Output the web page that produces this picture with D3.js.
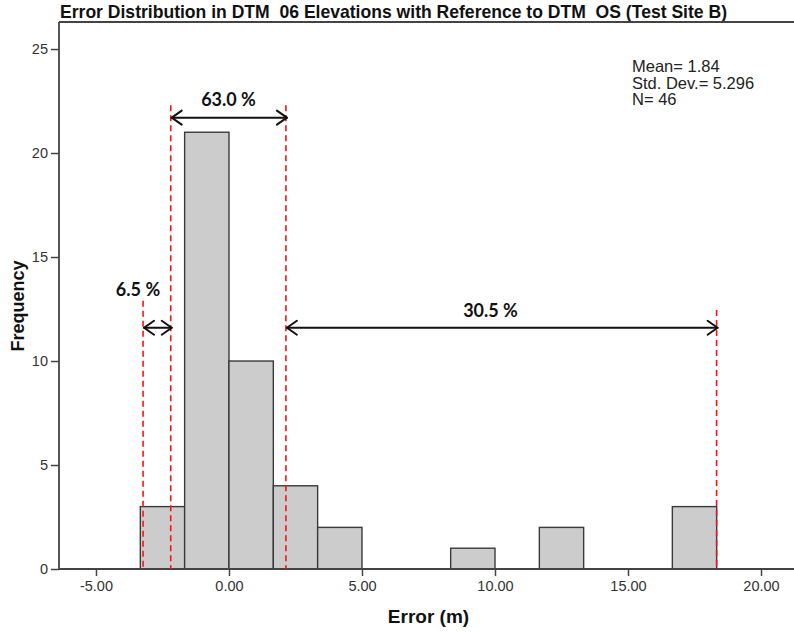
<!DOCTYPE html>
<html>
<head>
<meta charset="utf-8">
<script src="https://cdn.jsdelivr.net/npm/d3@7/dist/d3.min.js"></script>
<style>
  html, body { margin: 0; padding: 0; background: #fff; }
  svg { display: block; }
  .keep-space { white-space: pre; }
</style>
</head>
<body>
<svg id="chart" width="794" height="632"></svg>
<script>
// Histogram of elevation errors: bin edges (m) and counts per bin
const binEdges = [-3.333, -1.667, 0, 1.667, 3.333, 5, 6.667, 8.333, 10, 11.667, 13.333, 15, 16.667, 18.333];
const binCounts = [3, 21, 10, 4, 2, 0, 0, 1, 0, 2, 0, 0, 3];

// Axis ticks
const xTicks = [-5, 0, 5, 10, 15, 20];
const yTicks = [0, 5, 10, 15, 20, 25];

// Summary statistics shown in the corner
const statLines = ["Mean= 1.84", "Std. Dev.= 5.296", "N= 46"];

// Error thresholds (m) marked with dashed lines, and the share between neighbours
const markerValues = [-3.23, -2.19, 2.14, 18.33];
const markerTops = [12.9, 22.3, 22.3, 12.45];
const bandFrom = [-3.23, -2.19, 2.14];
const bandTo = [-2.19, 2.14, 18.33];
const bandLabels = ["6.5 %", "63.0 %", "30.5 %"];
const bandLevels = [11.6, 21.7, 11.6];

const titleText = "Error Distribution in DTM  06 Elevations with Reference to DTM  OS (Test Site B)";
const xTitle = "Error (m)";
const yTitle = "Frequency";

const svg = d3.select("#chart");
const plotLeft = 59, plotRight = 794, plotTop = 22, plotBottom = 569;

const x = d3.scaleLinear().domain([-6.39, 21.24]).range([plotLeft, plotRight]);
const y = d3.scaleLinear().domain([0, 26.3]).range([plotBottom, plotTop]);

// Title (condensed bold)
svg.append("text")
  .attr("class", "keep-space")
  .attr("x", 60).attr("y", 18)
  .attr("font-family", "'Liberation Sans Narrow', 'Arial Narrow', 'Liberation Sans', sans-serif")
  .attr("font-weight", "bold")
  .attr("font-size", 19)
  .attr("textLength", 667)
  .attr("lengthAdjust", "spacingAndGlyphs")
  .attr("fill", "#111")
  .text(titleText);

// Bars
const bins = binCounts.map((c, i) => ({ x0: binEdges[i], x1: binEdges[i + 1], n: c }))
  .filter(d => d.n > 0);
svg.append("g").selectAll("rect")
  .data(bins)
  .join("rect")
  .attr("x", d => x(d.x0))
  .attr("y", d => y(d.n))
  .attr("width", d => x(d.x1) - x(d.x0))
  .attr("height", d => y(0) - y(d.n))
  .attr("fill", "#cccccc")
  .attr("stroke", "#3a3a3a")
  .attr("stroke-width", 1.4);

// Frame top edge
const frameColor = "#444";
svg.append("line").attr("x1", plotLeft).attr("x2", plotRight).attr("y1", plotTop).attr("y2", plotTop)
  .attr("stroke", frameColor).attr("stroke-width", 1.8);

const tickFont = "'Liberation Sans', Arial, sans-serif";

// Y axis
const yAxis = d3.axisLeft(y).tickValues(yTicks).tickSize(8).tickPadding(3).tickFormat(d3.format("d"));
const gy = svg.append("g").attr("transform", `translate(${plotLeft},0)`).call(yAxis);
gy.select(".domain").attr("d", `M0,${plotTop}V${plotBottom}`).attr("stroke", frameColor).attr("stroke-width", 1.8);
gy.selectAll(".tick line").attr("stroke", frameColor).attr("stroke-width", 1.5);
gy.selectAll(".tick text")
  .attr("font-family", tickFont)
  .attr("font-size", 14.5).attr("fill", "#333");

// X axis, labels with a plain hyphen for negatives
const fmt2 = d3.format(".2f");
const xAxis = d3.axisBottom(x).tickValues(xTicks).tickSize(7).tickPadding(5)
  .tickFormat(d => fmt2(d).replace("\u2212", "-"));
const gx = svg.append("g").attr("transform", `translate(0,${plotBottom})`).call(xAxis);
gx.select(".domain").attr("d", `M${plotLeft},0H${plotRight}`).attr("stroke", frameColor).attr("stroke-width", 1.8);
gx.selectAll(".tick line").attr("stroke", frameColor).attr("stroke-width", 1.5);
gx.selectAll(".tick text")
  .attr("font-family", tickFont)
  .attr("font-size", 14.5).attr("fill", "#333");

// Axis titles
svg.append("text")
  .attr("x", (plotLeft + plotRight) / 2 + 2).attr("y", 623)
  .attr("text-anchor", "middle")
  .attr("font-family", tickFont)
  .attr("font-weight", "bold").attr("font-size", 19).attr("fill", "#111")
  .text(xTitle);
svg.append("text")
  .attr("transform", `translate(24,${y(12.65)}) rotate(-90)`)
  .attr("text-anchor", "middle")
  .attr("font-family", tickFont)
  .attr("font-weight", "bold").attr("font-size", 18).attr("fill", "#111")
  .text(yTitle);

// Statistics
svg.append("g").selectAll("text")
  .data(statLines)
  .join("text")
  .attr("x", 632)
  .attr("y", (d, i) => 72 + i * 16.5)
  .attr("font-family", tickFont)
  .attr("font-size", 16.5).attr("fill", "#222")
  .text(d => d);

// Dashed threshold lines
svg.append("g").selectAll("line")
  .data(markerValues.map((v, i) => ({ v, t: markerTops[i] })))
  .join("line")
  .attr("x1", d => x(d.v)).attr("x2", d => x(d.v))
  .attr("y1", d => y(d.t)).attr("y2", y(0))
  .attr("stroke", "#ff1010").attr("stroke-width", 1.6)
  .attr("stroke-dasharray", "6,4");

// Double-headed arrows with open chevron heads
const bands = bandLabels.map((label, i) => ({ a: bandFrom[i], b: bandTo[i], label, lv: bandLevels[i] }));
const ag = svg.append("g").attr("stroke", "#111").attr("stroke-width", 2).attr("fill", "none")
  .attr("stroke-linecap", "round").attr("stroke-linejoin", "round");
bands.forEach(d => {
  const x0 = x(d.a) + 1, x1 = x(d.b) + 1, yy = y(d.lv);
  const hl = 10, hh = 7;
  ag.append("path").attr("d", `M${x0},${yy}H${x1}`);
  ag.append("path").attr("d", `M${x0 + hl},${yy - hh}L${x0},${yy}L${x0 + hl},${yy + hh}`);
  ag.append("path").attr("d", `M${x1 - hl},${yy - hh}L${x1},${yy}L${x1 - hl},${yy + hh}`);
});

// Percentage labels above the arrows
const labelPos = [
  { cx: 138, by: 296 },
  { cx: 228.5, by: 106 },
  { cx: 490.5, by: 317 }
];
svg.append("g").selectAll("text")
  .data(bands)
  .join("text")
  .attr("x", (d, i) => labelPos[i].cx)
  .attr("y", (d, i) => labelPos[i].by)
  .attr("text-anchor", "middle")
  .attr("font-family", "Lato, 'Open Sans', sans-serif")
  .attr("font-weight", "bold").attr("font-size", 18).attr("fill", "#111")
  .text(d => d.label);
</script>
</body>
</html>
